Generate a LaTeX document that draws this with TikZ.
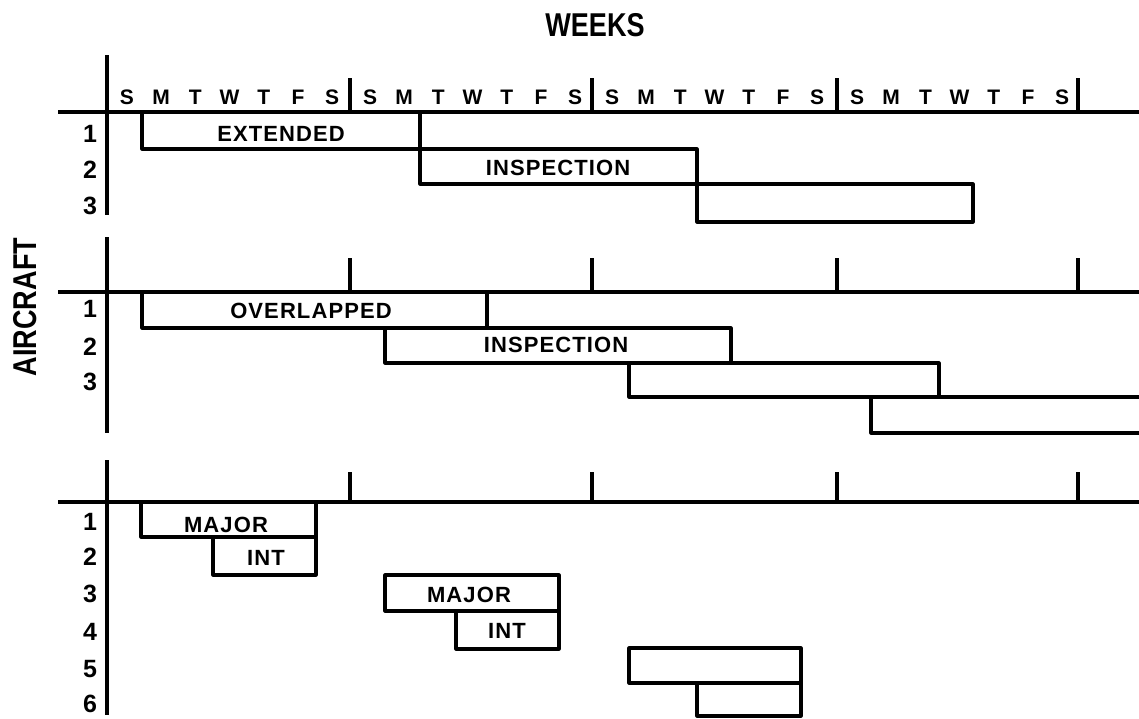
\documentclass[tikz,border=0pt]{standalone}
\usepackage{fontspec}
\setmainfont{Liberation Sans}
\newfontfamily\headfont{Liberation Sans}[FakeStretch=0.82]
\newfontfamily\labelfont{Liberation Sans}[LetterSpace=5]
\begin{document}
\begin{tikzpicture}[x=1pt,y=-1pt,
  rule/.style={line width=3.6pt},
  tick/.style={line width=3.2pt},
  bar/.style={line width=3.2pt, line join=round},
  head/.style={font=\headfont\fontsize{33}{33}\selectfont\bfseries, inner sep=0pt},
  day/.style={font=\fontsize{21}{21}\selectfont\bfseries, inner sep=0pt},
  num/.style={font=\fontsize{25}{25}\selectfont\bfseries, inner sep=0pt},
  lab/.style={font=\labelfont\fontsize{22}{22}\selectfont\bfseries, inner sep=0pt}]
\useasboundingbox (0,0) rectangle (1139,718);

% titles
\node[head] (weeks) at (595,25) {WEEKS};
\node[head, rotate=90] (aircraft) at (25,307) {AIRCRAFT};

% vertical axis, one segment per chart
\draw[rule] (107,55) -- (107,215);
\draw[rule] (107,237) -- (107,433);
\draw[rule] (107,460) -- (107,715);

% horizontal time lines
\draw[rule] (58,112) -- (1139,112);
\draw[rule] (58,292) -- (1139,292);
\draw[rule] (58,502) -- (1139,502);

% week separators
\foreach \x in {350,592,837,1078} {
  \draw[tick] (\x,78) -- (\x,112);
  \draw[tick] (\x,258) -- (\x,292);
  \draw[tick] (\x,472) -- (\x,502);
}

% day letters
\foreach \w [count=\i] in {107,350,592,837} {
  \foreach \d [count=\j] in {S,M,T,W,T,F,S} {
    \node[day] (d\i-\j) at ({\w+20+34.2*(\j-1)},97.5) {\d};
  }
}

% aircraft numbers
\foreach \y [count=\k] in {134,170,206} \node[num] (a\k) at (90,\y) {\k};
\foreach \y [count=\k] in {309,347,382} \node[num] (b\k) at (90,\y) {\k};
\foreach \y [count=\k] in {522,557,594,632,669,704} \node[num] (c\k) at (90,\y) {\k};

% extended inspection
\draw[bar] (142,112) rectangle (420,149);
\draw[bar] (420,149) rectangle (697,184);
\draw[bar] (697,184) rectangle (973,222);
\node[lab] (ext) at (281,134) {EXTENDED};
\node[lab] (insp1) at (558,168) {INSPECTION};

% overlapped inspection
\draw[bar] (142,292) rectangle (487,328);
\draw[bar] (385,328) rectangle (731,363);
\draw[bar] (629,363) rectangle (939,397);
\draw[bar] (1145,397) -- (871,397) -- (871,433) -- (1145,433);
\node[lab] (ovl) at (311,311) {OVERLAPPED};
\node[lab] (insp2) at (556,345) {INSPECTION};

% major and intermediate inspections
\draw[bar] (141,502) rectangle (316,537);
\draw[bar] (213,537) rectangle (316,575);
\draw[bar] (385,575) rectangle (559,611);
\draw[bar] (456,611) rectangle (559,649);
\draw[bar] (629,648) rectangle (801,683);
\draw[bar] (697,683) rectangle (801,716);
\node[lab] (maj1) at (226,525) {MAJOR};
\node[lab] (int1) at (266,558) {INT};
\node[lab] (maj2) at (469,595) {MAJOR};
\node[lab] (int2) at (507,631) {INT};
\end{tikzpicture}
\end{document}
